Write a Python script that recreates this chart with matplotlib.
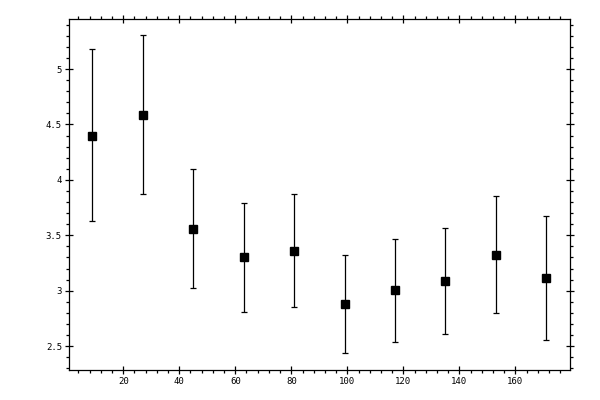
import numpy as np
import matplotlib
matplotlib.use("Agg")
import matplotlib.pyplot as plt
from matplotlib.ticker import MultipleLocator, FormatStrFormatter

x_vals = [9, 27, 45, 63, 81, 99, 117, 135, 153, 171]
y_vals = [4.40, 4.585, 3.56, 3.30, 3.36, 2.883, 3.009, 3.09, 3.324, 3.117]
y_top = [5.18, 5.31, 4.096, 3.793, 3.874, 3.324, 3.468, 3.568, 3.856, 3.676]
y_bot = [3.63, 3.87, 3.021, 2.811, 2.856, 2.441, 2.541, 2.613, 2.802, 2.559]


def plotChart():
	y = np.array(y_vals)
	err = [y - np.array(y_bot), np.array(y_top) - y]

	fig = plt.figure(figsize=(6, 4), dpi=100)
	ax = fig.add_axes([0.1158, 0.0758, 0.8342, 0.8762])

	ax.errorbar(x_vals, y, yerr=err, fmt='s', color='black', ecolor='black',
		markersize=5.5, elinewidth=0.9, capsize=2, capthick=0.9)

	ax.set_xlim(0.8, 179.5)
	ax.set_ylim(2.287, 5.45)

	ax.xaxis.set_major_locator(MultipleLocator(20))
	ax.xaxis.set_minor_locator(MultipleLocator(4))
	ax.yaxis.set_major_locator(MultipleLocator(0.5))
	ax.yaxis.set_minor_locator(MultipleLocator(0.1))
	ax.yaxis.set_major_formatter(FormatStrFormatter('%g'))

	# ticks cross the frame for majors, stick out for minors
	ax.tick_params(which='major', direction='inout', length=5.8, width=0.9,
		top=True, right=True, labelsize=6.5, pad=2.5)
	ax.tick_params(which='minor', direction='out', length=2.5, width=0.9,
		top=True, right=True)
	for lab in ax.get_xticklabels() + ax.get_yticklabels():
		lab.set_family('DejaVu Sans Mono')
	for sp in ax.spines.values():
		sp.set_linewidth(0.9)

	fig.savefig('out.png', dpi=100)


if __name__ == "__main__":
	plotChart()
